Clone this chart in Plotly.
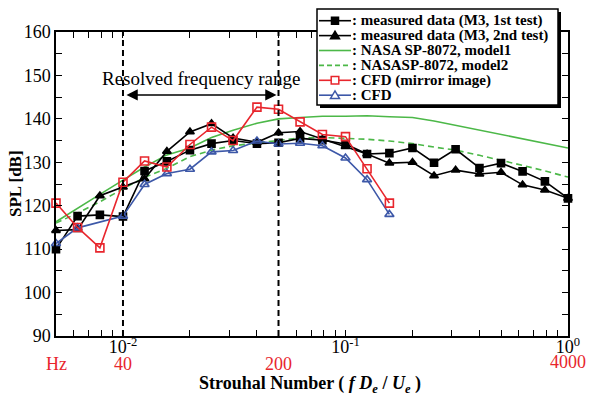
import math
import plotly.graph_objects as go

# ---------------- data ----------------
freq_hz = [20, 25, 31.5, 40, 50, 63, 80, 100, 125, 160, 200, 250, 315, 400,
           500, 630, 800, 1000, 1250, 1600, 2000, 2500, 3150, 4000]
st_ref_hz = 4000.0  # frequency at Strouhal number 1

m3_test1 = [110.0, 117.6, 117.9, 117.5, 128.0, 130.2, 132.8, 134.3, 135.0, 134.3,
            134.5, 135.5, 135.1, 134.2, 131.9, 132.1, 133.3, 129.9, 133.0, 128.7,
            129.8, 127.9, 125.6, 121.7]
m3_test2 = [114.3, 114.5, 122.3, 124.3, 126.2, 132.5, 137.0, 138.9, 135.6, 134.6,
            136.8, 137.1, 135.3, 133.6, 131.9, 129.8, 130.0, 126.9, 128.2, 127.3,
            127.7, 124.8, 123.6, 121.7]
nasa_model1 = [116.3, 119.3, 122.6, 125.9, 128.9, 131.7, 133.3, 135.7, 137.4, 139.0,
               140.0, 140.3, 140.6, 140.6, 140.7, 140.5, 140.3, 139.5, 138.5, 137.4,
               136.4, 135.5, 134.4, 133.3]
nasa_model2 = [116.0, 118.3, 120.9, 123.9, 126.5, 128.6, 131.3, 132.8, 133.8, 134.4,
               135.1, 135.6, 135.7, 135.5, 135.3, 134.9, 134.3, 133.5, 132.8, 131.6,
               130.5, 129.3, 128.0, 126.6]
cfd_mirror = [120.6, 115.0, 110.3, 125.4, 130.3, 128.9, 134.1, 138.1, 135.0, 142.7,
              142.2, 139.3, 136.4, 135.9, 128.5, 120.6]
cfd = [111.3, 114.9, None, 117.6, 124.9, 127.4, 128.4, 132.4, 132.7, 134.9,
       134.2, 134.4, 133.8, 131.0, 126.0, 118.0]

resolved_hz = [40, 200]
resolved_label = "Resolved frequency range"
resolved_label_db = 149.3
resolved_arrow_db = 145.5

freq_label_hz = [20, 40, 200, 4000]
freq_label_text = ["Hz", "40", "200", "4000"]

x_major_ticks = [0.01, 0.1, 1.0]
x_major_labels = ["10<sup>-2</sup>", "10<sup>-1</sup>", "10<sup>0</sup>"]
x_range = [0.005, 1.0]
y_range = [90, 160]
y_ticks = [90, 100, 110, 120, 130, 140, 150, 160]

legend_labels = [": measured data (M3, 1st test)",
                 ": measured data (M3, 2nd test)",
                 ": NASA SP-8072, model1",
                 ": NASASP-8072, model2",
                 ": CFD (mirror image)",
                 ": CFD"]

# ---------------- styling ----------------
W, H = 607, 405
ML, MR, MT, MB = 56, 39, 32, 69
FONT = "Liberation Serif, Times New Roman, serif"
RED = "#e8262d"
BLUE = "#3d58a8"
GREEN = "#4cb848"
BLACK = "#000000"

st = [f / st_ref_hz for f in freq_hz]
st_cfd = st[:len(cfd)]

# minor tick positions for the log axis (2..9 within each decade)
x_minor = []
for dec in range(-3, 1):
    for d in range(2, 10):
        v = d * 10 ** dec
        if x_range[0] - 1e-12 <= v <= x_range[1] + 1e-12:
            x_minor.append(v)

fig = go.Figure()

def add_series(y, x, name, color, symbol, msize, dash="solid", fill=None, markers=True):
    fig.add_trace(go.Scatter(
        x=x, y=y, name=name,
        mode="lines+markers" if markers else "lines",
        line=dict(color=color, width=1.6, dash=dash),
        marker=dict(symbol=symbol, size=msize, color=fill if fill else color,
                    line=dict(color=color, width=1.6)) if markers else None,
        connectgaps=True, cliponaxis=False, showlegend=False))

add_series(nasa_model1, st, legend_labels[2], GREEN, None, 0, markers=False)
add_series(nasa_model2, st, legend_labels[3], GREEN, None, 0, dash="6px,4px", markers=False)
add_series(m3_test1, st, legend_labels[0], BLACK, "square", 7)
add_series(m3_test2, st, legend_labels[1], BLACK, "triangle-up", 7.5)
add_series(cfd, st_cfd, legend_labels[5], BLUE, "triangle-up-open", 8)
add_series(cfd_mirror, st_cfd, legend_labels[4], RED, "square-open", 8)

# resolved range: vertical dashed lines
for f in resolved_hz:
    fig.add_trace(go.Scatter(x=[f / st_ref_hz, f / st_ref_hz], y=y_range, mode="lines",
                             line=dict(color=BLACK, width=2, dash="6px,4px"),
                             showlegend=False, hoverinfo="skip"))

lo, hi = resolved_hz[0] / st_ref_hz, resolved_hz[1] / st_ref_hz
annotations = []
annotations.append(dict(x=math.log10(hi), y=resolved_arrow_db, ax=math.log10(lo), ay=resolved_arrow_db,
                        xref="x", yref="y", axref="x", ayref="y", text="", showarrow=True,
                        arrowside="end+start", arrowhead=2, startarrowhead=2,
                        arrowsize=1.5, startarrowsize=1.5, arrowwidth=1.5, arrowcolor=BLACK,
                        standoff=2, startstandoff=2))
annotations.append(dict(x=math.log10(math.sqrt(lo * hi)), y=resolved_label_db, xref="x", yref="y",
                        text=resolved_label, showarrow=False,
                        font=dict(family=FONT, size=19, color=BLACK)))

PH = H - MT - MB
PW = W - ML - MR
def py2paper(py):
    return (H - MB - py) / PH
def px2paper(px):
    return (px - ML) / PW

# frequency (Hz) labels in red
for f, t in zip(freq_label_hz, freq_label_text):
    annotations.append(dict(x=math.log10(f / st_ref_hz), y=py2paper(364 if t != "4000" else 362),
                            xref="x", yref="paper", text=t, showarrow=False,
                            xanchor="center", yanchor="middle",
                            font=dict(family=FONT, size=18, color=RED)))

# axis titles
annotations.append(dict(x=px2paper(310), y=py2paper(384), xref="paper", yref="paper",
                        text="<b>Strouhal Number ( <i>f D<sub>e</sub></i> / <i>U<sub>e</sub></i> )</b>",
                        showarrow=False, xanchor="center", yanchor="middle",
                        font=dict(family=FONT, size=18, color=BLACK)))
annotations.append(dict(x=px2paper(15), y=0.5, xref="paper", yref="paper",
                        text="<b>SPL [dB]</b>", textangle=-90,
                        showarrow=False, xanchor="center", yanchor="middle",
                        font=dict(family=FONT, size=17, color=BLACK)))

# ---------------- legend (drawn as a boxed key) ----------------
shapes = []
LX0, LX1, LY0, LY1 = 317, 558, 9, 105
shapes.append(dict(type="rect", xref="paper", yref="paper", layer="above",
                   x0=px2paper(LX0 + 3), x1=px2paper(LX1 + 3), y0=py2paper(LY0 + 3), y1=py2paper(LY1 + 3),
                   fillcolor=BLACK, line=dict(width=0)))
shapes.append(dict(type="rect", xref="paper", yref="paper", layer="above",
                   x0=px2paper(LX0), x1=px2paper(LX1), y0=py2paper(LY0), y1=py2paper(LY1),
                   fillcolor="white", line=dict(color=BLACK, width=1.5)))
leg_styles = [(BLACK, "solid", "sq", True), (BLACK, "solid", "tri", True),
              (GREEN, "solid", None, False), (GREEN, "dash", None, False),
              (RED, "solid", "sq", False), (BLUE, "solid", "tri", False)]
for i, (lab, (col, dsh, mk, filled)) in enumerate(zip(legend_labels, leg_styles)):
    cy = 20.7 + 14.9 * i
    shapes.append(dict(type="line", xref="paper", yref="paper", layer="above",
                       x0=px2paper(LX0 + 2), x1=px2paper(LX0 + 34), y0=py2paper(cy), y1=py2paper(cy),
                       line=dict(color=col, width=1.6, dash="5px,3px" if dsh == "dash" else "solid")))
    if mk == "sq":
        s = 3.5 if filled else 3.8
        shapes.append(dict(type="rect", xref="paper", yref="paper", layer="above",
                           xsizemode="pixel", ysizemode="pixel",
                           xanchor=px2paper(LX0 + 18), yanchor=py2paper(cy),
                           x0=-s, x1=s, y0=-s, y1=s,
                           fillcolor=col if filled else "white", line=dict(color=col, width=1.5)))
    elif mk == "tri":
        shapes.append(dict(type="path", xref="paper", yref="paper", layer="above",
                           xsizemode="pixel", ysizemode="pixel",
                           xanchor=px2paper(LX0 + 18), yanchor=py2paper(cy),
                           path="M-4.5,-3.2 L4.5,-3.2 L0,4.3 Z",
                           fillcolor=col if filled else "white", line=dict(color=col, width=1.5)))
    annotations.append(dict(x=px2paper(LX0 + 33), y=py2paper(cy), xref="paper", yref="paper",
                            text=lab, showarrow=False, xanchor="left", yanchor="middle",
                            font=dict(family=FONT, size=15, color=BLACK, weight="bold")))

axis_common = dict(showline=True, linecolor=BLACK, linewidth=1.5, mirror="ticks",
                   ticks="inside", ticklen=6, tickwidth=1.2, tickcolor=BLACK,
                   showgrid=False, zeroline=False,
                   tickfont=dict(family=FONT, size=18, color=BLACK))

fig.update_layout(
    width=W, height=H,
    margin=dict(l=ML, r=MR, t=MT, b=MB),
    paper_bgcolor="white", plot_bgcolor="white",
    font=dict(family=FONT, color=BLACK),
    xaxis=dict(type="log", range=[math.log10(x_range[0]), math.log10(x_range[1])],
               tickmode="array", tickvals=x_major_ticks, ticktext=x_major_labels,
               ticklabelstandoff=-6,
               minor=dict(tickmode="array", tickvals=x_minor, ticks="inside", ticklen=6,
                          tickwidth=1.2, tickcolor=BLACK, showgrid=False),
               **axis_common),
    yaxis=dict(range=y_range, tickmode="array", tickvals=y_ticks,
               minor=dict(dtick=5, ticks="inside", ticklen=6, tickwidth=1.2, tickcolor=BLACK, showgrid=False),
               **axis_common),
    shapes=shapes,
    annotations=annotations,
    showlegend=False,
)

fig.write_html("out.html", config={"displayModeBar": False},
               post_script="document.body.style.margin='0';document.body.style.padding='0';")
